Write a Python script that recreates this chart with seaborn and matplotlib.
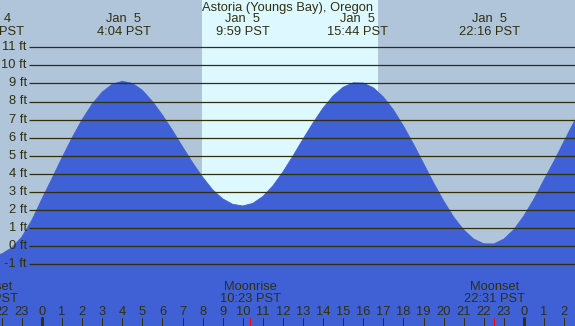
import numpy as np
import pandas as pd
import matplotlib
matplotlib.use("Agg")
import matplotlib.pyplot as plt
import matplotlib.transforms as mtransforms
import seaborn as sns

# Tide heights (ft), read every half hour, hours relative to Jan 5 00:00 PST
horas = np.arange(-2.5, 27.01, 0.5)
alturas = [-0.55, -0.42, -0.08, 0.52, 1.45,
           2.62, 3.75, 4.90, 6.00, 7.00, 7.86, 8.52, 8.95, 9.12, 9.00,
           8.62, 8.00, 7.25, 6.40, 5.50, 4.62, 3.82, 3.12, 2.62, 2.32,
           2.23, 2.37, 2.75, 3.34, 4.11, 4.99, 5.92, 6.82, 7.64, 8.31,
           8.79, 9.03, 9.02, 8.76, 8.25, 7.54, 6.65, 5.65, 4.58, 3.51,
           2.51, 1.62, 0.91, 0.40, 0.14, 0.13, 0.40, 0.92, 1.68, 2.61,
           3.67, 4.70, 5.80, 6.88, 7.76]

# High / low tide annotations
extremos_horas = [-2.43, 4.07, 9.98, 15.73, 22.27]
extremos_dias = ["Jan  4", "Jan  5", "Jan  5", "Jan  5", "Jan  5"]
extremos_texto = ["21:34 PST", "4:04 PST", "9:59 PST", "15:44 PST", "22:16 PST"]

# Moon events
lua_horas = [-2.72, 10.38, 22.52]
lua_nomes = ["Moonset", "Moonrise", "Moonset"]
lua_texto = ["21:17 PST", "10:23 PST", "22:31 PST"]

# Daylight
nascer_sol = 7.98
por_sol = 16.75

niveis_ft = list(range(-1, 12))
horas_ticks = list(range(-2, 27))

titulo = "Astoria (Youngs Bay), Oregon"

cor_noite = "#B0C4DA"
cor_dia = "#DDF8FF"
cor_agua = "#4060D6"
cor_texto = "#30300F"

sns.set_theme(style="white")
plt.rcParams["font.family"] = ["Liberation Sans", "DejaVu Sans"]
fs = 9.3

fig = plt.figure(figsize=(5.75, 3.26), dpi=100)
ax = fig.add_axes([0, 0, 1, 1])
ax.set_facecolor(cor_noite)

px_h = 20.08
x0 = -42 / px_h
x1 = (575 - 42) / px_h
px_ft = 18.1
y_top = 246.3 / px_ft
y_bot = (246.3 - 326) / px_ft
ax.set_xlim(x0, x1)
ax.set_ylim(y_bot, y_top)

ax.axvspan(nascer_sol, por_sol, color=cor_dia, lw=0, zorder=0.5)

df = pd.DataFrame({"hora": horas, "altura": alturas})
ax.fill_between(df["hora"], df["altura"], y_bot, color=cor_agua, lw=0, zorder=1)
sns.lineplot(data=df, x="hora", y="altura", color=cor_agua, lw=0.6, ax=ax, zorder=1.1)

# horizontal level lines and labels
x_linha = (29 - 42) / px_h
x_rotulo = (26.7 - 42) / px_h
ax.hlines(niveis_ft, x_linha, x1, color=cor_texto, lw=0.9, zorder=2)
for n in niveis_ft:
    ax.text(x_rotulo, n, f"{n} ft", ha="right", va="center", fontsize=fs,
            color=cor_texto, zorder=3)

trans = mtransforms.blended_transform_factory(ax.transData, ax.transAxes)

ax.text(0.5, 1 - 7.5 / 326, titulo, transform=ax.transAxes, ha="center",
        va="center", fontsize=fs, color=cor_texto)
for h, d, t in zip(extremos_horas, extremos_dias, extremos_texto):
    ax.text(h, 1 - 19.5 / 326, d, transform=trans, ha="center", va="center",
            fontsize=fs, color=cor_texto)
    ax.text(h, 1 - 31.8 / 326, t, transform=trans, ha="center", va="center",
            fontsize=fs, color=cor_texto)

for h, n, t in zip(lua_horas, lua_nomes, lua_texto):
    ax.text(h, 1 - 287.5 / 326, n, transform=trans, ha="center", va="center",
            fontsize=fs, color=cor_texto)
    ax.text(h, 1 - 299.5 / 326, t, transform=trans, ha="center", va="center",
            fontsize=fs, color=cor_texto)

# hour ticks
altura_tick = 8 / 326
for h in horas_ticks:
    ax.text(h, 1 - 311.8 / 326, str(h % 24), transform=trans, ha="center",
            va="center", fontsize=fs, color=cor_texto)
    largura = 3 if h % 24 == 0 else 1
    ax.axvline(h, 0, altura_tick, color=cor_texto, lw=largura * 0.72, zorder=3)
for h in lua_horas:
    ax.axvline(h, 0, altura_tick, color="red", lw=0.72, zorder=3)

ax.set_xticks([])
ax.set_yticks([])
for s in ax.spines.values():
    s.set_visible(False)
ax.set_xlabel("")
ax.set_ylabel("")

fig.savefig("out.png", dpi=100)
